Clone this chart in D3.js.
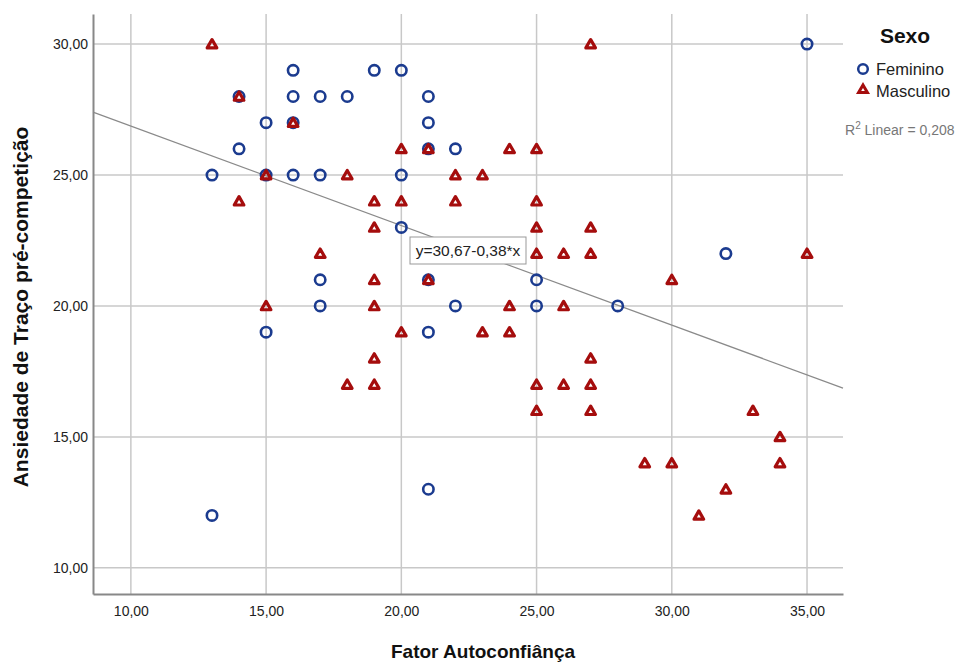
<!DOCTYPE html>
<html>
<head>
<meta charset="utf-8">
<script src="https://cdn.jsdelivr.net/npm/d3@7"></script>
<style>
body { margin: 0; background: #fff; }
svg { display: block; }
.tick text { font-family: "Liberation Sans Narrow", "Liberation Sans", Arial, sans-serif; font-size: 14px; fill: #222; }
</style>
</head>
<body>
<div class="chartWrapper"></div>
<script>
// Feminino (circles)
var femX = [13, 13, 14, 14, 15, 15, 15, 16, 16, 16, 16, 17, 17, 17, 17, 18, 19, 20, 20, 20,
            21, 21, 21, 21, 21, 21, 22, 22, 25, 25, 28, 32, 35];
var femY = [25, 12, 28, 26, 27, 25, 19, 29, 28, 27, 25, 28, 25, 21, 20, 28, 29, 29, 25, 23,
            28, 27, 26, 21, 19, 13, 26, 20, 21, 20, 20, 22, 30];
// Masculino (triangles)
var mascX = [13, 27, 14, 16, 20, 21, 24, 25, 15, 18, 22, 23, 14, 19, 20, 22, 25,
             19, 25, 27, 17, 25, 26, 27, 35, 19, 21, 30, 15, 19, 24, 26,
             20, 23, 24, 19, 27, 18, 19, 25, 26, 27, 25, 27, 33, 34, 29, 30, 34, 32, 31];
var mascY = [30, 30, 28, 27, 26, 26, 26, 26, 25, 25, 25, 25, 24, 24, 24, 24, 24,
             23, 23, 23, 22, 22, 22, 22, 22, 21, 21, 21, 20, 20, 20, 20,
             19, 19, 19, 18, 18, 17, 17, 17, 17, 17, 16, 16, 16, 15, 14, 14, 14, 13, 12];
var xTicks = [10, 15, 20, 25, 30, 35];
var yTicks = [10, 15, 20, 25, 30];
var fitA = 30.67, fitB = -0.38, r2 = "0,208";

var width = 960, height = 662;
var plot = { left: 93, right: 843, top: 14, bottom: 594 };

var svg = d3.select(".chartWrapper").append("svg")
    .attr("width", width)
    .attr("height", height);

var xScale = d3.scaleLinear().domain([8.6, 36.33]).range([plot.left, plot.right]);
var yScale = d3.scaleLinear().domain([9.0, 31.15]).range([plot.bottom, plot.top]);
var fmt = function (d) { return d3.format(".2f")(d).replace(".", ","); };

// grid
svg.append("g").selectAll("line").data(xTicks).enter().append("line")
    .attr("x1", function (d) { return xScale(d); })
    .attr("x2", function (d) { return xScale(d); })
    .attr("y1", plot.top).attr("y2", plot.bottom)
    .attr("stroke", "#c8c8c8").attr("stroke-width", 1.5);
svg.append("g").selectAll("line").data(yTicks).enter().append("line")
    .attr("y1", function (d) { return yScale(d); })
    .attr("y2", function (d) { return yScale(d); })
    .attr("x1", plot.left).attr("x2", plot.right)
    .attr("stroke", "#c8c8c8").attr("stroke-width", 1.5);

// axes
var xAxis = d3.axisBottom(xScale).tickValues(xTicks).tickFormat(fmt).tickSize(0).tickPadding(12);
var yAxis = d3.axisLeft(yScale).tickValues(yTicks).tickFormat(fmt).tickSize(0).tickPadding(5);
var gx = svg.append("g").attr("transform", "translate(0," + plot.bottom + ")").call(xAxis);
var gy = svg.append("g").attr("transform", "translate(" + plot.left + ",0)").call(yAxis);
gx.select(".domain").attr("stroke", "#888").attr("stroke-width", 2);
gy.select(".domain").attr("stroke", "#888").attr("stroke-width", 2);

// fit line
var lineX = xScale.domain();
svg.append("line")
    .attr("x1", xScale(lineX[0])).attr("y1", yScale(fitA + fitB * lineX[0]))
    .attr("x2", xScale(lineX[1])).attr("y2", yScale(fitA + fitB * lineX[1]))
    .attr("stroke", "#8a8a8a").attr("stroke-width", 1.2);

// points
var fem = femX.map(function (d, i) { return [d, femY[i]]; });
var masc = mascX.map(function (d, i) { return [d, mascY[i]]; });
var tri = d3.symbol().type(d3.symbolTriangle).size(40);

svg.append("g").selectAll("circle").data(fem).enter().append("circle")
    .attr("cx", function (d) { return xScale(d[0]); })
    .attr("cy", function (d) { return yScale(d[1]); })
    .attr("r", 5.2)
    .attr("fill", "none")
    .attr("stroke", "#1b3b8f")
    .attr("stroke-width", 2.6);

svg.append("g").selectAll("path").data(masc).enter().append("path")
    .attr("d", tri)
    .attr("transform", function (d) { return "translate(" + xScale(d[0]) + "," + (yScale(d[1]) + 1) + ")"; })
    .attr("fill", "none")
    .attr("stroke", "#a50d0d")
    .attr("stroke-width", 3.2)
    .attr("stroke-linejoin", "round");

// equation label
var eqX = 467, eqY = 250;
var eq = svg.append("g");
eq.append("rect").attr("x", 410).attr("y", 237).attr("width", 116).attr("height", 27)
    .attr("fill", "#fff").attr("stroke", "#999").attr("stroke-width", 1);
eq.append("text").attr("x", eqX + 1).attr("y", eqY + 6).attr("text-anchor", "middle")
    .style("font-family", "Liberation Sans Narrow, Liberation Sans, Arial, sans-serif")
    .style("font-size", "15.5px").attr("fill", "#222")
    .text("y=30,67-0,38*x");

// legend
svg.append("text").attr("x", 905).attr("y", 43).attr("text-anchor", "middle")
    .style("font-family", "Liberation Sans, Arial, sans-serif")
    .style("font-size", "21px").style("font-weight", "bold").attr("fill", "#111")
    .text("Sexo");
svg.append("circle").attr("cx", 863).attr("cy", 69).attr("r", 4.8)
    .attr("fill", "none").attr("stroke", "#1b3b8f").attr("stroke-width", 2.5);
svg.append("text").attr("x", 876).attr("y", 75)
    .style("font-family", "Liberation Sans, Arial, sans-serif")
    .style("font-size", "16.5px").attr("fill", "#222").text("Feminino");
svg.append("path").attr("d", d3.symbol().type(d3.symbolTriangle).size(34))
    .attr("transform", "translate(863,90)")
    .attr("fill", "none").attr("stroke", "#a50d0d").attr("stroke-width", 3);
svg.append("text").attr("x", 876).attr("y", 97)
    .style("font-family", "Liberation Sans, Arial, sans-serif")
    .style("font-size", "16.5px").attr("fill", "#222").text("Masculino");
var r2t = svg.append("text").attr("x", 845).attr("y", 135)
    .style("font-family", "Liberation Sans, Arial, sans-serif")
    .style("font-size", "14px").attr("fill", "#777");
r2t.append("tspan").text("R");
r2t.append("tspan").attr("dy", -6).style("font-size", "10px").text("2");
r2t.append("tspan").attr("dy", 6).text(" Linear = " + r2);

// axis titles
svg.append("text").attr("x", (plot.left + plot.right) / 2 + 15).attr("y", 658).attr("text-anchor", "middle")
    .style("font-family", "Liberation Sans Narrow, Liberation Sans, Arial, sans-serif")
    .style("font-size", "19px").style("font-weight", "bold").attr("fill", "#111")
    .text("Fator Autoconfiânça");
svg.append("text").attr("transform", "translate(28," + 307 + ") rotate(-90)").attr("text-anchor", "middle")
    .style("font-family", "Liberation Sans, Arial, sans-serif")
    .style("font-size", "21px").style("font-weight", "bold").attr("fill", "#111")
    .text("Ansiedade de Traço pré-competição");
</script>
</body>
</html>
